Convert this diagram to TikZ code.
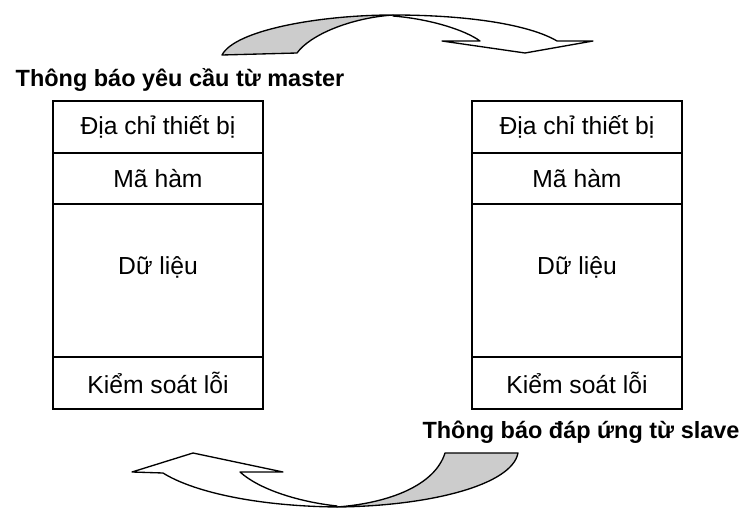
\documentclass[tikz,border=0pt]{standalone}
\usepackage{fontspec}
\setmainfont{Liberation Sans}
\usetikzlibrary{positioning}

\begin{document}
\begin{tikzpicture}[x=0.75pt,y=-0.75pt,
  field/.style={draw,line width=1pt,outer sep=0pt,minimum width=157.5pt,inner sep=0pt,font=\fontsize{18.5}{22}\selectfont},
  lbl/.style={inner sep=0pt,font=\fontsize{18.5}{22}\selectfont},
  title/.style={inner sep=0pt,font=\bfseries\fontsize{17.6}{21}\selectfont},
  ribbon/.style={draw,line width=1pt,line join=round}]
\useasboundingbox (0,0) rectangle (740,510);
\node[title] (reqTitle) at (180,80) {Thông báo yêu cầu từ master};
\node[field,minimum height=39pt,anchor=north] (mAddr) at (158,101) {Địa chỉ thiết bị};
\node[field,minimum height=38.25pt,below=0pt of mAddr] (mFunc) {Mã hàm};
\node[field,minimum height=114.75pt,below=0pt of mFunc] (mData) {};
\node[field,minimum height=39pt,below=0pt of mData] (mCheck) {Kiểm soát lỗi};
\node[lbl,yshift=10pt] (mDataTxt) at (mData.center) {Dữ liệu};
\node[field,minimum height=39pt,anchor=north] (sAddr) at (577,101) {Địa chỉ thiết bị};
\node[field,minimum height=38.25pt,below=0pt of sAddr] (sFunc) {Mã hàm};
\node[field,minimum height=114.75pt,below=0pt of sFunc] (sData) {};
\node[field,minimum height=39pt,below=0pt of sData] (sCheck) {Kiểm soát lỗi};
\node[lbl,yshift=10pt] (sDataTxt) at (sData.center) {Dữ liệu};
\node[title] (respTitle) at (581,432) {Thông báo đáp ứng từ slave};
% upper arrow
\draw[ribbon,fill=white] (393,15) .. controls (470,15) and (530,25) .. (557,41) -- (593,41) -- (525,53) -- (442,41) -- (480,41) .. controls (465,30) and (430,19) .. (393,16) -- cycle;
\draw[ribbon,fill=black!20] (222,55) .. controls (235,30) and (320,15) .. (393,15) .. controls (350,18) and (310,35) .. (297,53) -- cycle;
% lower arrow
\draw[ribbon,fill=white] (337,507) .. controls (250,506) and (190,490) .. (163,473) -- (132,472) -- (193,453) -- (283,472) -- (240,472) .. controls (260,490) and (300,502) .. (337,506) -- cycle;
\draw[ribbon,fill=black!20] (518,453) .. controls (512,485) and (430,506) .. (337,507) .. controls (390,503) and (435,485) .. (445,453) -- cycle;
\end{tikzpicture}
\end{document}
